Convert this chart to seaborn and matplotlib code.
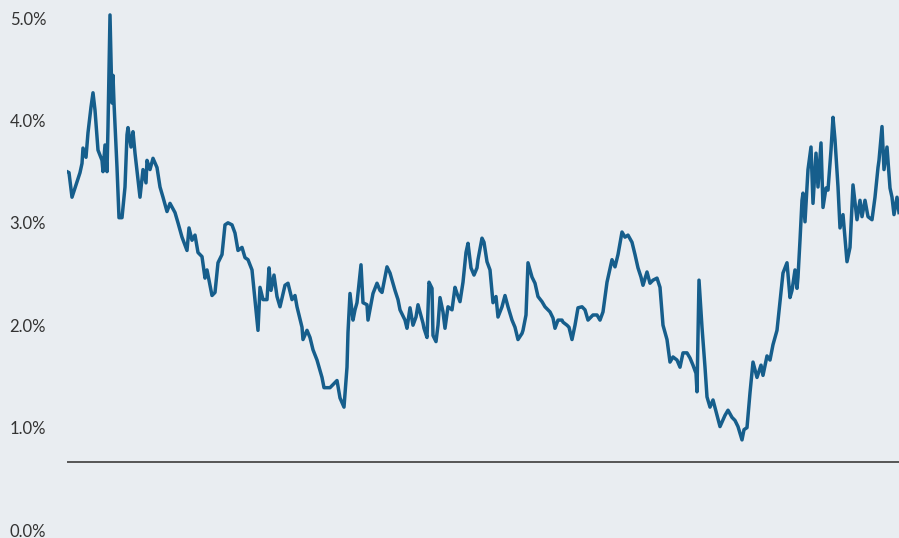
import numpy as np
import pandas as pd
import seaborn as sns
import matplotlib.pyplot as plt

# time index (no axis labels in the original) and yield values in percent
period = [0, 2, 5, 10, 13, 15, 16, 19, 21, 24, 26, 28, 31, 35, 36, 38, 40, 41, 43, 45,
          46, 47, 50, 52, 55, 58, 60, 61, 64, 66, 68, 73, 76, 79, 80, 83, 86, 90, 93, 96,
          100, 103, 108, 111, 115, 120, 122, 125, 128, 131, 135, 138, 140, 145, 148, 151, 155, 158, 161, 165,
          168, 171, 175, 178, 181, 185, 188, 191, 193, 196, 200, 202, 204, 207, 210, 213, 218, 221, 225, 228,
          230, 235, 236, 240, 243, 246, 250, 255, 257, 263, 270, 273, 277, 280, 281, 283, 286, 288, 290, 294,
          296, 300, 301, 306, 310, 313, 315, 320, 323, 326, 328, 331, 333, 338, 340, 343, 346, 349, 351, 356,
          357, 360, 362, 365, 366, 369, 371, 373, 376, 378, 381, 385, 388, 390, 393, 396, 399, 401, 404, 407,
          410, 411, 415, 417, 420, 423, 426, 429, 431, 435, 438, 441, 445, 448, 451, 455, 456, 459, 461, 465,
          468, 471, 475, 478, 483, 486, 488, 491, 495, 496, 500, 502, 505, 508, 511, 515, 518, 521, 526, 530,
          533, 536, 540, 545, 548, 551, 555, 558, 561, 565, 568, 571, 574, 576, 580, 583, 586, 590, 593, 596,
          600, 603, 606, 610, 613, 616, 620, 623, 626, 629, 630, 632, 635, 638, 640, 643, 646, 650, 653, 658,
          661, 665, 668, 671, 675, 677, 680, 683, 686, 690, 694, 696, 700, 703, 706, 710, 713, 716, 720, 723,
          725, 728, 730, 731, 733, 735, 736, 738, 741, 744, 746, 749, 751, 754, 756, 759, 761, 764, 766, 768,
          771, 773, 776, 780, 783, 786, 790, 793, 795, 798, 801, 805, 808, 811, 812, 815, 817, 820, 823, 825,
          827, 830, 832]
yield_pct = [3.50, 3.49, 3.25, 3.40, 3.49, 3.58, 3.73, 3.64, 3.88, 4.13, 4.27, 4.10, 3.71, 3.61, 3.50, 3.76, 3.50, 3.94, 5.03, 4.17,
             4.44, 4.17, 3.54, 3.05, 3.05, 3.35, 3.86, 3.93, 3.74, 3.89, 3.68, 3.25, 3.52, 3.39, 3.61, 3.52, 3.63, 3.54, 3.35, 3.25,
             3.11, 3.19, 3.10, 3.00, 2.86, 2.73, 2.95, 2.83, 2.88, 2.71, 2.67, 2.46, 2.54, 2.29, 2.32, 2.61, 2.69, 2.98, 3.00, 2.98,
             2.90, 2.73, 2.76, 2.66, 2.64, 2.54, 2.25, 1.95, 2.37, 2.25, 2.25, 2.56, 2.34, 2.49, 2.28, 2.18, 2.39, 2.41, 2.25, 2.29,
             2.18, 1.98, 1.86, 1.95, 1.88, 1.76, 1.66, 1.49, 1.39, 1.39, 1.46, 1.29, 1.20, 1.59, 1.93, 2.31, 2.05, 2.15, 2.22, 2.59,
             2.22, 2.20, 2.05, 2.31, 2.41, 2.34, 2.32, 2.57, 2.51, 2.41, 2.34, 2.25, 2.15, 2.05, 1.97, 2.17, 2.00, 2.08, 2.20, 2.02,
             1.97, 1.88, 2.42, 2.36, 1.90, 1.84, 2.00, 2.27, 2.13, 1.97, 2.18, 2.15, 2.37, 2.31, 2.23, 2.42, 2.71, 2.80, 2.56, 2.49,
             2.56, 2.64, 2.85, 2.81, 2.62, 2.54, 2.22, 2.28, 2.08, 2.18, 2.29, 2.18, 2.05, 1.98, 1.86, 1.92, 1.95, 2.10, 2.61, 2.47,
             2.41, 2.28, 2.23, 2.18, 2.13, 2.07, 1.97, 2.05, 2.05, 2.03, 2.00, 1.98, 1.86, 2.00, 2.17, 2.18, 2.15, 2.05, 2.10, 2.10,
             2.05, 2.13, 2.42, 2.64, 2.57, 2.69, 2.91, 2.86, 2.88, 2.81, 2.69, 2.56, 2.47, 2.39, 2.52, 2.41, 2.44, 2.46, 2.37, 2.00,
             1.86, 1.64, 1.69, 1.66, 1.59, 1.73, 1.73, 1.68, 1.61, 1.53, 1.35, 2.44, 1.98, 1.59, 1.30, 1.20, 1.27, 1.12, 1.01, 1.12,
             1.17, 1.10, 1.07, 1.01, 0.88, 0.98, 1.00, 1.34, 1.64, 1.49, 1.61, 1.51, 1.70, 1.66, 1.81, 1.95, 2.23, 2.51, 2.61, 2.27,
             2.34, 2.54, 2.36, 2.47, 2.83, 3.22, 3.29, 3.01, 3.52, 3.74, 3.19, 3.68, 3.35, 3.78, 3.15, 3.34, 3.32, 3.71, 4.03, 3.81,
             3.35, 2.95, 3.08, 2.62, 2.76, 3.37, 3.03, 3.22, 3.06, 3.22, 3.06, 3.03, 3.25, 3.54, 3.61, 3.94, 3.52, 3.74, 3.34, 3.25,
             3.08, 3.25, 3.10, 3.39]
y_ticks = [0, 1, 2, 3, 4, 5]
y_tick_labels = ['0.0%', '1.0%', '2.0%', '3.0%', '4.0%', '5.0%']
baseline = 0.665

n = min(len(period), len(yield_pct))
df = pd.DataFrame({'period': period[:n], 'yield': yield_pct[:n]})

bg = '#E9EDF1'
fig = plt.figure(figsize=(8.99, 5.38), dpi=100, facecolor=bg)
ax = fig.add_axes([67 / 899, 0, 832 / 899, 1])
ax.set_facecolor(bg)

sns.lineplot(data=df, x='period', y='yield', ax=ax, color='#165E8C', linewidth=2.5)
ax.axhline(baseline, xmin=0.001, color='#555555', linewidth=1.4)

ax.set_xlim(0, 832)
ax.set_ylim(-0.078, 5.176)
ax.set_yticks(y_ticks)
ax.set_yticklabels(y_tick_labels, fontsize=12, color='#333333', family=['Lato', 'DejaVu Sans'])
ax.tick_params(axis='y', length=0, pad=15)
ax.set_xticks([])
ax.set_xlabel('')
ax.set_ylabel('')
for s in ax.spines.values():
    s.set_visible(False)

fig.savefig('out.png', dpi=100, facecolor=bg)
